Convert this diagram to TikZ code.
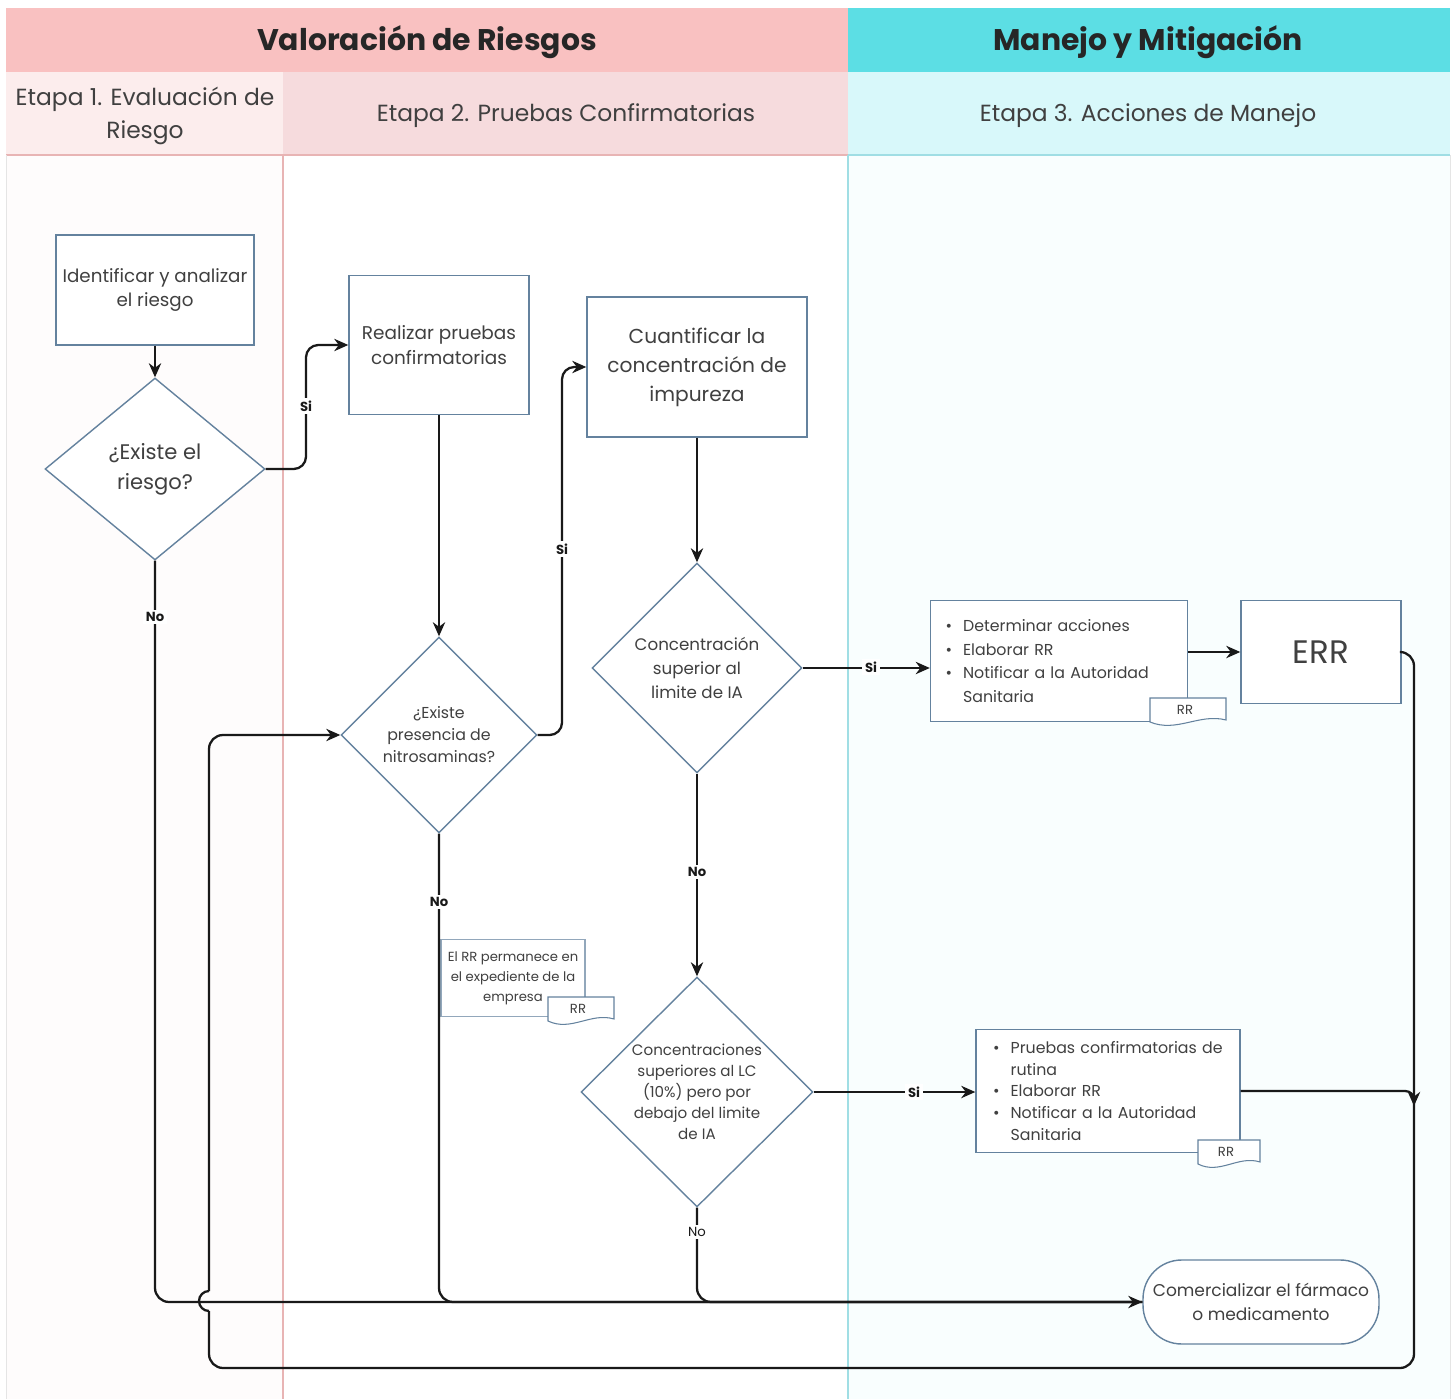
\documentclass[tikz,border=0pt]{standalone}
\usepackage{fontspec}
\setmainfont{Poppins}
\usetikzlibrary{positioning,shapes.geometric,arrows.meta}
\definecolor{riskcolor}{RGB}{249,193,193}
\definecolor{mitigcolor}{RGB}{92,222,228}
\definecolor{stageonecolor}{RGB}{252,237,237}
\definecolor{stagetwocolor}{RGB}{246,219,221}
\definecolor{stagethreecolor}{RGB}{216,248,250}
\definecolor{boxcolor}{RGB}{100,130,158}
\definecolor{inkcolor}{RGB}{64,64,64}
\definecolor{sepredcolor}{RGB}{232,180,180}
\definecolor{sepcyancolor}{RGB}{160,222,228}

% RR document tag: name, x, y, half width
\newcommand{\rrtag}[4]{%
  \filldraw[boxcolor, fill=white, line width=0.6pt] ({#2-#4},{#3-13}) -- ({#2+#4},{#3-13}) -- ({#2+#4},{#3+9})
    .. controls ({#2+#4*0.3},{#3+2}) and ({#2-#4*0.3},{#3+22}) .. ({#2-#4},{#3+11}) -- cycle;
  \node[tag] (#1) at ({#2-3},{#3-1}) {RR};}

\begin{document}
\begin{tikzpicture}[x=0.02cm, y=-0.02cm, >=Stealth]
  % Styles for lanes, boxes and connectors
  \tikzset{
    header/.style={font=\bfseries\fontsize{17}{20}\selectfont, text=black!85},
    stage/.style={align=center, font=\fontsize{13.3}{18.7}\selectfont, text=inkcolor},
    box/.style={rectangle, draw=boxcolor, line width=0.8pt, fill=white, align=center, text=inkcolor, font=\fontsize{10.4}{14}\selectfont},
    decision/.style={diamond, draw=boxcolor, line width=0.8pt, fill=white, align=center, text=inkcolor, inner sep=0pt},
    bullets/.style={box, align=left, inner xsep=0.3cm, font=\fontsize{9}{13.6}\selectfont},
    note/.style={rectangle, draw=boxcolor!70, line width=0.6pt, fill=white, align=center, text=inkcolor, font=\fontsize{7.5}{11.3}\selectfont},
    terminal/.style={box, rounded corners=22pt, font=\fontsize{9.7}{13.6}\selectfont},
    tag/.style={inner sep=0pt, text=inkcolor, font=\fontsize{7.5}{9}\selectfont},
    flow/.style={-{Stealth[length=8pt,width=7pt]}, line width=1.3pt, black!90},
    link/.style={line width=1.3pt, black!90},
    lbl/.style={fill=white, inner sep=1.5pt, text=black!90, font=\bfseries\fontsize{7.5}{9}\selectfont},
    lblplain/.style={lbl, font=\fontsize{7.5}{9}\selectfont}
  }
  \useasboundingbox (0,0) rectangle (1455,1399);

  % Lanes
  \fill[riskcolor] (6,8) rectangle (848,72);
  \fill[mitigcolor] (848,8) rectangle (1450,72);
  \fill[stageonecolor] (6,72) rectangle (283,155);
  \fill[stagetwocolor] (283,72) rectangle (848,155);
  \fill[stagethreecolor] (848,72) rectangle (1450,155);
  \fill[stageonecolor!15] (6,155) rectangle (283,1399);
  \fill[stagethreecolor!15] (848,155) rectangle (1450,1399);
  \draw[sepredcolor, line width=0.6pt] (6,155) -- (848,155);
  \draw[sepcyancolor, line width=0.6pt] (848,155) -- (1450,155);
  \draw[sepredcolor, line width=0.6pt] (283,155) -- (283,1399);
  \draw[sepcyancolor, line width=0.6pt] (848,155) -- (848,1399);
  \draw[black!10, line width=0.4pt] (6,155) -- (6,1399) (1450,155) -- (1450,1399);

  \node[header] (valoracion) at (427,42) {Valoración de Riesgos};
  \node[header] (manejo) at (1148,42) {Manejo y Mitigación};
  \node[stage] (etapa1) at (145,116) {Etapa 1. Evaluación de\\Riesgo};
  \node[stage] (etapa2) at (566,116) {Etapa 2. Pruebas Confirmatorias};
  \node[stage] (etapa3) at (1148,116) {Etapa 3. Acciones de Manejo};

  % Nodes
  \node[box, minimum width=3.96cm, minimum height=2.2cm] (ident) at (155,290) {Identificar y analizar\\el riesgo};
  \node[decision, minimum width=4.4cm, minimum height=3.64cm, font=\fontsize{12}{17}\selectfont] (exist) at (155,469) {¿Existe el\\riesgo?};
  \node[box, minimum width=3.6cm, minimum height=2.78cm, font=\fontsize{10.5}{14}\selectfont] (pruebas) at (439,345) {Realizar pruebas\\confirmatorias};
  \node[decision, minimum width=3.92cm, minimum height=3.92cm, font=\fontsize{9}{12.5}\selectfont] (nitro) at (439,735) {¿Existe\\presencia de\\nitrosaminas?};
  \node[box, minimum width=4.4cm, minimum height=2.8cm, font=\fontsize{11.5}{16.5}\selectfont] (cuant) at (697,367) {Cuantificar la\\concentración de\\impureza};
  \node[decision, minimum width=4.2cm, minimum height=4.2cm, font=\fontsize{9.5}{13.5}\selectfont] (lim1) at (697,668) {Concentración\\superior al\\limite de IA};
  \node[decision, minimum width=4.64cm, minimum height=4.6cm, font=\fontsize{8.6}{12}\selectfont] (lim2) at (697,1092) {Concentraciones\\superiores al LC\\(10\%) pero por\\debajo del limite\\de IA};
  \node[bullets, minimum width=5.14cm, minimum height=2.42cm, text width=4.54cm] (acc1) at (1059,661) {\textbullet\hspace{0.7em}Determinar acciones\\\textbullet\hspace{0.7em}Elaborar RR\\\textbullet\hspace{0.7em}Notificar a la Autoridad\\\phantom{\textbullet}\hspace{0.7em}Sanitaria};
  \node[box, minimum width=3.2cm, minimum height=2.06cm, font=\fontsize{18.5}{20}\selectfont] (err) at (1321,652) {ERR};
  \node[note, minimum width=2.88cm, minimum height=1.54cm, inner sep=2pt] (expediente) at (513,978) {El RR permanece en\\el expediente de la\\empresa\hspace{3.5em}};
  \node[bullets, minimum width=5.28cm, minimum height=2.46cm, text width=4.6cm, inner xsep=0.34cm, font=\fontsize{9}{12.5}\selectfont] (acc2) at (1108,1091) {\textbullet\hspace{0.7em}Pruebas confirmatorias de\\\phantom{\textbullet}\hspace{0.7em}rutina\\\textbullet\hspace{0.7em}Elaborar RR\\\textbullet\hspace{0.7em}Notificar a la Autoridad\\\phantom{\textbullet}\hspace{0.7em}Sanitaria};
  \node[terminal, minimum width=4.72cm, minimum height=1.68cm] (fin) at (1261,1302) {Comercializar el fármaco\\o medicamento};

  \rrtag{rr1}{1188}{711}{38}
  \rrtag{rr2}{581}{1010}{33}
  \rrtag{rr3}{1229}{1153}{31}

  \coordinate (merge) at (1414,1106);
  \coordinate (jumpbot) at (209,1311);
  \coordinate (jumptop) at (209,1291);

  % Connectors
  \draw[flow] (ident) -- (exist);
  \draw[flow, rounded corners=7pt] (exist.east) -- (306,469) -- (306,345) -- (pruebas.west);
  \draw[flow] (pruebas) -- (nitro);
  \draw[flow, rounded corners=7pt] (nitro.east) -- (562,735) -- (562,367) -- (cuant.west);
  \draw[flow] (cuant) -- (lim1);
  \draw[flow] (lim1.east) -- (lim1.east -| acc1.west);
  \draw[flow] (lim1) -- (lim2);
  \draw[flow] (lim2.east) -- (lim2.east -| acc2.west);
  \draw[flow] (acc1.east |- err.west) -- (err.west);
  \draw[flow, rounded corners=5pt] (acc2.east) -| (merge);
  \draw[link, rounded corners=8pt] (nitro.south) |- (fin.west);
  \draw[link, rounded corners=8pt] (lim2.south) |- (fin.west);
  \draw[flow, rounded corners=8pt] (exist.south) |- (fin.west);
  \draw[link, rounded corners=8pt] (err.east) -- (1414,652) -- (1414,1368) -- (209,1368) -- (jumpbot);
  \draw[link] (jumpbot) arc[start angle=-90, end angle=-270, radius=0.2cm];
  \draw[flow, rounded corners=8pt] (jumptop) -- (209,735) -- (nitro.west);

  % Connector labels
  \node[lbl] (si1) at (306,406) {Si};
  \node[lbl] (si2) at (562,549) {Si};
  \node[lbl] (si3) at (871,667) {Si};
  \node[lbl] (si4) at (914,1092) {Si};
  \node[lbl] (no1) at (155,617) {No};
  \node[lbl] (no2) at (439,902) {No};
  \node[lbl] (no3) at (697,872) {No};
  \node[lblplain] (no4) at (697,1232) {No};
\end{tikzpicture}
\end{document}
